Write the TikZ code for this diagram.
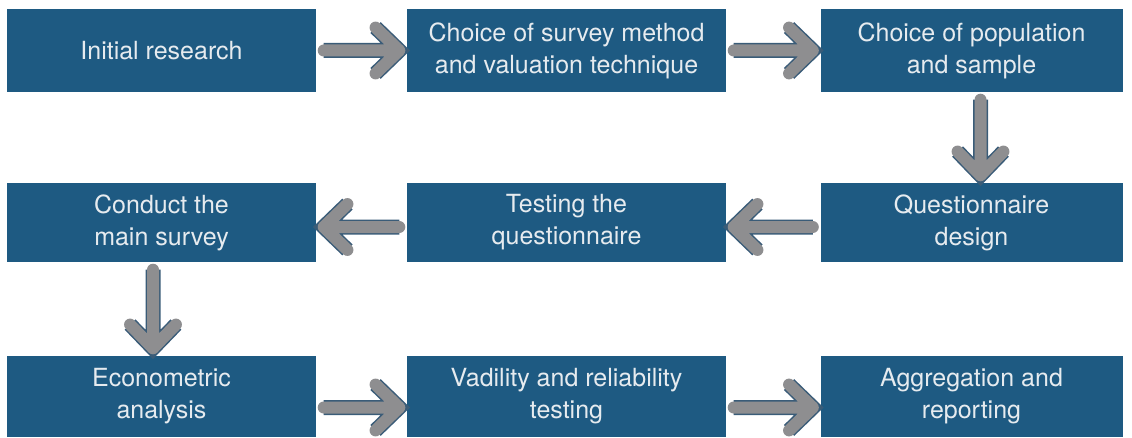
\documentclass[tikz,border=0pt]{standalone}
\usepackage{fontspec}
\setmainfont{TeX Gyre Heros}
\usepackage{xcolor}
\usepackage{tikz}
\usetikzlibrary{positioning, calc}

\definecolor{stageblue}{HTML}{1E5A82}
\definecolor{stagetext}{HTML}{E6EBEF}
\definecolor{flowgray}{HTML}{8E8E90}
\definecolor{flowedge}{HTML}{3A5C78}

\tikzset{
  stage/.style={rectangle, fill=stageblue, text=stagetext, align=center,
    inner sep=0pt, font=\fontsize{25}{32}\selectfont},
  colA/.style={minimum width=309pt},
  colB/.style={minimum width=319pt},
  colC/.style={minimum width=302pt},
  flow/.style={draw=flowgray, line width=12pt, line cap=round, line join=round,
    preaction={draw=flowedge, line width=15pt},
    to path={($(\tikztostart)!7.5pt!(\tikztotarget)$) coordinate (fs)
      -- ($(\tikztotarget)!7.5pt!(\tikztostart)$) coordinate (ft)
      ($(ft)!33pt!44:(fs)$) -- (ft) -- ($(ft)!33pt!-44:(fs)$)}}
}

\begin{document}
\begin{tikzpicture}[node distance=172pt and 405pt, on grid]
  \useasboundingbox (0,0) rectangle (1132pt,437pt);

  % first row
  \node[stage, colA, minimum height=83pt] (init) at (161.5pt,386.5pt) {Initial research};
  \node[stage, colB, minimum height=83pt] (method) [right=of init] {Choice of survey method\\and valuation technique};
  \node[stage, colC, minimum height=83pt] (sample) [right=of method] {Choice of population\\and sample};

  % second row
  \node[stage, colC, minimum height=79pt] (design) [below=of sample] {Questionnaire\\design};
  \node[stage, colB, minimum height=79pt] (testing) [below=of method] {Testing the\\questionnaire};
  \node[stage, colA, minimum height=79pt] (conduct) [below=of init] {Conduct the\\main survey};

  % third row
  \node[stage, colA, minimum height=81pt] (econ) [below=174pt of conduct] {Econometric\\analysis};
  \node[stage, colB, minimum height=81pt] (valid) [below=174pt of testing] {Vadility and reliability\\testing};
  \node[stage, colC, minimum height=81pt] (aggr) [below=174pt of design] {Aggregation and\\reporting};

  \path[flow] (init.east) to (method.west);
  \path[flow] (method.east) to (sample.west);
  \path[flow] ([xshift=9pt]sample.south) to ([xshift=9pt]design.north);
  \path[flow] ([yshift=-4.5pt]design.west) to ([yshift=-4.5pt]testing.east);
  \path[flow] ([yshift=-4.5pt]testing.west) to ([yshift=-4.5pt]conduct.east);
  \path[flow] ([xshift=-8.5pt]conduct.south) to ([xshift=-8.5pt]econ.north);
  \path[flow] ([yshift=-11pt]econ.east) to ([yshift=-11pt]valid.west);
  \path[flow] ([yshift=-11pt]valid.east) to ([yshift=-11pt]aggr.west);
\end{tikzpicture}
\end{document}
